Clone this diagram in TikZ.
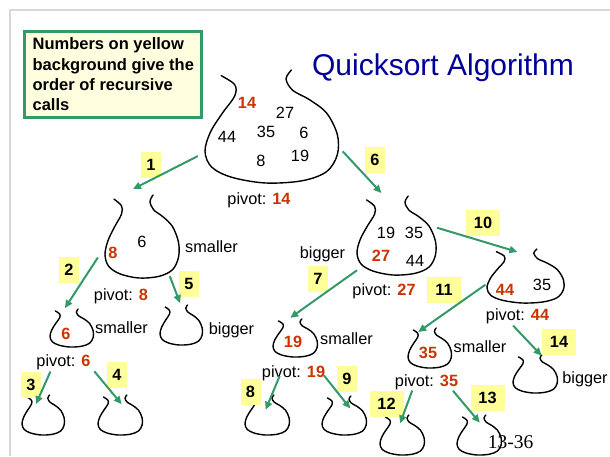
\documentclass[tikz,border=0pt]{standalone}
\usepackage{fontspec}
\setmainfont{Liberation Sans}
\newfontfamily\slidenum{Liberation Serif}
\usepackage{tikz}
\usetikzlibrary{arrows.meta}
\definecolor{callgreen}{RGB}{51,153,102}
\definecolor{callyellow}{RGB}{255,255,153}
\definecolor{notefill}{RGB}{255,255,224}
\definecolor{pivred}{RGB}{204,51,0}
\definecolor{titleblue}{RGB}{0,0,153}
\definecolor{framegray}{RGB}{217,217,217}

% sack: name, centre x, centre y, width, height
\newcommand{\bagat}[5]{%
  \node[bag,minimum width=#4pt,minimum height=#5pt] (#1) at (#2,#3) {};
  \draw[sack,shift={(#1.center)},x=#4pt,y=-#5pt] plot[smooth,tension=.55] coordinates
    {(-.38,-.45) (-.28,-.37) (-.28,-.27) (-.37,-.12) (-.46,.05) (-.5,.22) (-.45,.36) (-.30,.45) (-.05,.5)
     (.22,.48) (.40,.40) (.48,.25) (.48,.07) (.40,-.12) (.27,-.24) (.15,-.32) (.10,-.42) (.14,-.5)};}

\begin{document}
\begin{tikzpicture}[x=1pt,y=-1pt,font=\fontsize{16.3}{19}\selectfont]
\tikzset{bag/.style={inner sep=0pt,outer sep=0pt},
  sack/.style={line width=1.4pt,line join=round,line cap=round},
  call/.style={-{Triangle[length=8pt,width=7pt]},callgreen,line width=2pt},
  callno/.style={fill=callyellow,font=\fontsize{16.3}{19}\selectfont\bfseries,minimum width=20pt,minimum height=26pt,inner sep=0pt},
  wide/.style={minimum width=34pt},
  pv/.style={inner sep=1pt},
  piv/.style={text=pivred,font=\fontsize{16.3}{19}\selectfont\bfseries}}
\useasboundingbox (0,0) rectangle (610,456);
\draw[framegray,line width=1.5pt] (10,456) -- (10,10) -- (610,10);

\node[draw=callgreen,line width=3pt,fill=notefill,minimum width=177pt,minimum height=86pt,
  inner xsep=3pt,align=left,font=\fontsize{16.5}{20.3}\selectfont\bfseries] (note) at (113.3,74.5)
  {Numbers on yellow\\background give the\\order of recursive\\calls};
\node[titleblue,font=\fontsize{30}{36}\selectfont,anchor=base] (title) at (443,75.5) {Quicksort Algorithm};

% the sacks
\bagat{root}{272.5}{126.5}{135}{113}
\bagat{b8}{142.5}{236.5}{75}{83}
\bagat{b6}{72}{328}{44}{38}
\bagat{b5}{181.5}{325}{43}{40}
\bagat{b3}{43.5}{415}{43}{40}
\bagat{b4}{120.5}{415}{45}{40}
\bagat{b27}{397}{235.5}{80}{79}
\bagat{b19}{295.5}{338}{45}{38}
\bagat{b8c}{267.5}{415}{45}{40}
\bagat{b9c}{344.5}{415.5}{45}{39}
\bagat{b44}{526}{276}{78}{54}
\bagat{b35}{430}{348}{44}{40}
\bagat{b12c}{402.5}{435}{45}{40}
\bagat{b13c}{479.5}{435}{45}{40}
\bagat{b14c}{535.5}{374}{45}{38}

% contents and pivots
\node[piv] (r14) at (247,103) {14};
\node (r27) at (285,113) {27};
\node (r44) at (227,137) {44};
\node (r35) at (266,132) {35};
\node (r6) at (304,133) {6};
\node (r8) at (261,161) {8};
\node (r19) at (300,156) {19};
\node[pv] (p14) at (259,200.5) {pivot: \textcolor{pivred}{\bfseries 14}};

\node[piv] (l8) at (113,253) {8};
\node (l6) at (142,242) {6};
\node (sm1) at (211.5,247) {smaller};
\node[pv] (p8) at (121,296.7) {pivot: \textcolor{pivred}{\bfseries 8}};

\node[piv] (ll6) at (66,334) {6};
\node (sm2) at (121.5,328) {smaller};
\node (bg1) at (231.5,330.5) {bigger};
\node[pv] (p6) at (63.5,362.7) {pivot: \textcolor{pivred}{\bfseries 6}};

\node (m19) at (386,233) {19};
\node (m35) at (414,233) {35};
\node[piv] (m27) at (381,256) {27};
\node (m44) at (415,261) {44};
\node (bg2) at (322.5,254) {bigger};
\node[pv] (p27) at (384,291.7) {pivot: \textcolor{pivred}{\bfseries 27}};

\node[piv] (q19) at (293,341.5) {19};
\node (sm3) at (346.5,339) {smaller};
\node[pv] (p19) at (293.5,373.7) {pivot: \textcolor{pivred}{\bfseries 19}};

\node[piv] (s44) at (505,290) {44};
\node (s35) at (542,285) {35};
\node[pv] (p44) at (517.5,316.7) {pivot: \textcolor{pivred}{\bfseries 44}};

\node[piv] (t35) at (428,353) {35};
\node (sm4) at (480,347) {smaller};
\node[pv] (p35) at (426.5,382.7) {pivot: \textcolor{pivred}{\bfseries 35}};
\node (bg3) at (585,379.5) {bigger};

% order of the calls
\node[callno] (k1) at (151,164.5) {1};
\node[callno] (k2) at (69,270) {2};
\node[callno] (k3) at (31,384.5) {3};
\node[callno] (k4) at (117,374.5) {4};
\node[callno] (k5) at (189,284) {5};
\node[callno] (k6) at (375,160) {6};
\node[callno] (k7) at (318,279) {7};
\node[callno] (k8) at (250.5,391.5) {8};
\node[callno] (k9) at (347,378.5) {9};
\node[callno,wide] (k10) at (483,222.5) {10};
\node[callno,wide] (k11) at (444,289.5) {11};
\node[callno,wide] (k12) at (386.5,403.5) {12};
\node[callno,wide] (k13) at (487.5,398) {13};
\node[callno,wide] (k14) at (559,341.5) {14};

\draw[call,shorten <=8pt,shorten >=13pt] (root.201) -- (b8.117);
\draw[call,shorten <=13pt,shorten >=1pt] (b8.195) -- (b6.112);
\draw[call,shorten >=-10pt] (p6.214) -- (b3.100);
\draw[call,shorten <=4pt,shorten >=-12pt] (p6.349) -- (b4.108);
\draw[call,shorten <=-2pt,shorten >=2pt] (b8.304) -- (b5.92);
\draw[call,shorten <=4pt,shorten >=4pt] (root.342) -- (b27.108);
\draw[call,shorten >=2pt] (b27.221) -- (b19.110);
\draw[call,shorten <=-7pt,shorten >=-16pt] (p19.208) -- (b8c.78);
\draw[call,shorten <=-4pt,shorten >=-16pt] (p19.352) -- (b9c.102);
\draw[call,shorten >=-10pt] (b27.11) -- (b44.124);
\draw[call,shorten <=2pt,shorten >=-7pt] (b44.191) -- (b35.107);
\draw[call,shorten <=-1pt,shorten >=-9pt] (p35.211) -- (b12c.88);
\draw[call,shorten <=-1pt,shorten >=-10pt] (p35.342) -- (b13c.107);
\draw[call,shorten >=-1pt] (p44.243) -- (b14c.74);

\node[font=\slidenum\fontsize{19.5}{22}\selectfont,anchor=base] (page) at (510.5,448) {13-36};
\end{tikzpicture}
\end{document}
